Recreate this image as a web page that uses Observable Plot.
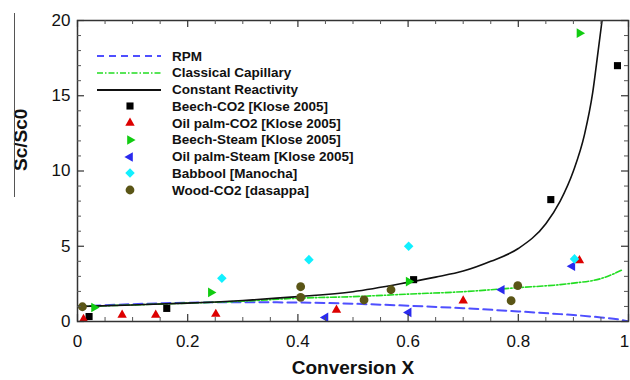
<!DOCTYPE html>
<html><head><meta charset="utf-8">
<script src="https://cdn.jsdelivr.net/npm/d3@7"></script>
<script src="https://cdn.jsdelivr.net/npm/@observablehq/plot@0.6"></script>
<style>
body{margin:0;background:#fff;}
#wrap{position:relative;width:630px;height:380px;font-family:"Liberation Sans",Arial,sans-serif;}
.row{position:absolute;height:16px;display:flex;align-items:center;font-weight:bold;font-size:13.5px;color:#111;white-space:nowrap;}
.row svg{display:block;}
#artifact{position:absolute;left:14px;top:13px;width:1px;height:184px;background:#555;}
</style></head><body><div id="wrap"><div id="artifact"></div></div>
<script>
// ---- model curves ----
const rpmX = [0, 0.1, 0.2, 0.3, 0.4, 0.5, 0.6, 0.7, 0.8, 0.876, 0.9, 0.95, 0.98, 1.0];
const rpmY = [1.0, 1.15, 1.25, 1.28, 1.26, 1.18, 1.05, 0.88, 0.67, 0.49, 0.43, 0.27, 0.15, 0.0];

const capX = [0, 0.1, 0.2, 0.3, 0.4, 0.5, 0.6, 0.7, 0.8, 0.876, 0.9, 0.95, 0.99];
const capY = [1.0, 1.1, 1.22, 1.35, 1.55, 1.65, 1.82, 1.98, 2.25, 2.45, 2.55, 2.85, 3.45];

const crX = [0, 0.1, 0.2, 0.3, 0.4, 0.5, 0.6, 0.65, 0.7, 0.75, 0.8, 0.85, 0.876, 0.9, 0.92, 0.935, 0.945, 0.952];
const crY = [1.0, 1.1, 1.22, 1.4, 1.65, 1.98, 2.6, 2.95, 3.35, 4.0, 4.85, 6.5, 8.0, 10.0, 12.4, 15.2, 18.0, 20.0];

// ---- measured points ----
const beechCO2X = [0.021, 0.162, 0.61, 0.859, 0.98];
const beechCO2Y = [0.33, 0.87, 2.78, 8.1, 17.0];

const oilCO2X = [0.011, 0.081, 0.142, 0.251, 0.47, 0.70, 0.911];
const oilCO2Y = [0.15, 0.43, 0.43, 0.49, 0.76, 1.38, 4.05];

const beechSteamX = [0.030, 0.242, 0.601, 0.911];
const beechSteamY = [0.93, 1.93, 2.65, 19.16];

const oilSteamX = [0.45, 0.601, 0.770, 0.898];
const oilSteamY = [0.27, 0.6, 2.11, 3.67];

const babboolX = [0.262, 0.42, 0.601, 0.902];
const babboolY = [2.87, 4.11, 5.0, 4.16];

const woodX = [0.009, 0.405, 0.405, 0.52, 0.569, 0.787, 0.799];
const woodY = [0.98, 2.31, 1.6, 1.43, 2.11, 1.38, 2.38];

const xMajor = [0, 0.2, 0.4, 0.6, 0.8, 1];
const yMajor = [0, 5, 10, 15, 20];
const xMinor = d3.range(0, 21).map(i => i * 0.05).filter(v => Math.abs(v * 5 - Math.round(v * 5)) > 1e-6);
const yMinor = d3.range(0, 21).filter(v => v % 5 !== 0);

const legendLabels = ["RPM", "Classical Capillary", "Constant Reactivity", "Beech-CO2 [Klose 2005]",
  "Oil palm-CO2 [Klose 2005]", "Beech-Steam [Klose 2005]", "Oil palm-Steam [Klose 2005]",
  "Babbool [Manocha]", "Wood-CO2 [dasappa]"];

const zip = (xs, ys) => xs.map((x, i) => ({x, y: ys[i]}));

const C = {
  rpm: "#4f4fff", cap: "#22dd22", cr: "#111111",
  black: "#000000", red: "#dd0000", green: "#11cc11", blue: "#2a2aee", cyan: "#11f0ff", olive: "#5a5516"
};

const W = 630, H = 380, mL = 77, mR = 2, mT = 20, mB = 59;
const pw = W - mL - mR, ph = H - mT - mB;
const fmt = d => String(d);

const pointSeries = [
  {xs: beechCO2X, ys: beechCO2Y, symbol: "square", r: 4, fill: C.black, rotate: 0},
  {xs: oilCO2X, ys: oilCO2Y, symbol: "triangle", r: 3.5, fill: C.red, rotate: 0},
  {xs: beechSteamX, ys: beechSteamY, symbol: "triangle", r: 3.6, fill: C.green, rotate: 90},
  {xs: oilSteamX, ys: oilSteamY, symbol: "triangle", r: 3.6, fill: C.blue, rotate: -90},
  {xs: babboolX, ys: babboolY, symbol: "diamond2", r: 4.3, fill: C.cyan, rotate: 0},
  {xs: woodX, ys: woodY, symbol: "circle", r: 4.4, fill: C.olive, rotate: 0}
];

const chart = Plot.plot({
  width: W, height: H, marginLeft: mL, marginRight: mR, marginTop: mT, marginBottom: mB,
  x: {domain: [0, 1]}, y: {domain: [0, 20]},
  style: {fontFamily: "Liberation Sans, Arial, sans-serif", background: "white", color: "#111", overflow: "visible"},
  marks: [
    Plot.line(zip(rpmX, rpmY), {x: "x", y: "y", stroke: C.rpm, strokeWidth: 2, strokeDasharray: "9,5", curve: "monotone-x", clip: true}),
    Plot.line(zip(capX, capY), {x: "x", y: "y", stroke: C.cap, strokeWidth: 1.6, strokeDasharray: "6,2,1.5,2", curve: "monotone-x", clip: true}),
    Plot.line(zip(crX, crY), {x: "x", y: "y", stroke: C.cr, strokeWidth: 1.6, curve: "monotone-x", clip: true}),
    ...pointSeries.map(s => Plot.dot(zip(s.xs, s.ys), {x: "x", y: "y", symbol: s.symbol, r: s.r, fill: s.fill, stroke: "none", rotate: s.rotate})),
    Plot.frame({stroke: "#333", strokeWidth: 1.5}),
    Plot.tickY(yMajor, {y: d => d, insetRight: pw - 7, stroke: "#333", strokeWidth: 1.2}),
    Plot.tickY(yMajor, {y: d => d, insetLeft: pw - 7, stroke: "#333", strokeWidth: 1.2}),
    Plot.tickY(yMinor, {y: d => d, insetRight: pw - 4, stroke: "#555", strokeWidth: 1}),
    Plot.tickY(yMinor, {y: d => d, insetLeft: pw - 4, stroke: "#555", strokeWidth: 1}),
    Plot.tickX(xMajor, {x: d => d, insetTop: ph - 7, stroke: "#333", strokeWidth: 1.2}),
    Plot.tickX(xMajor, {x: d => d, insetBottom: ph - 7, stroke: "#333", strokeWidth: 1.2}),
    Plot.tickX(xMinor, {x: d => d, insetTop: ph - 4, stroke: "#555", strokeWidth: 1}),
    Plot.tickX(xMinor, {x: d => d, insetBottom: ph - 4, stroke: "#555", strokeWidth: 1}),
    Plot.axisX(xMajor.slice(0, -1), {tickSize: 0, tickPadding: 13, fontSize: 17, label: null, tickFormat: fmt}),
    Plot.axisX(xMajor.slice(-1), {tickSize: 0, tickPadding: 13, fontSize: 17, label: null, tickFormat: fmt, dx: -4}),
    Plot.axisY(yMajor, {tickSize: 0, tickPadding: 7, fontSize: 17, label: null, tickFormat: fmt}),
    Plot.text(["Conversion X"], {text: d => d, frameAnchor: "bottom", dy: 52, fontSize: 19, fontWeight: "bold"}),
    Plot.text(["Sc/Sc0"], {text: d => d, frameAnchor: "left", dx: -57, rotate: -90, fontSize: 19, fontWeight: "bold"})
  ]
});

const wrap = document.getElementById("wrap");
wrap.prepend(chart);

// ---- legend overlay ----
const rowTop0 = 56, rowStep = 16.75;
const lineSamples = [
  {stroke: C.rpm, dash: "7,5", w: 2},
  {stroke: C.cap, dash: "6,2,1.5,2", w: 1.6},
  {stroke: C.cr, dash: null, w: 1.8}
];
legendLabels.forEach((label, i) => {
  const row = document.createElement("div");
  row.className = "row";
  row.style.left = "96px";
  row.style.top = (rowTop0 + i * rowStep - 8) + "px";
  const svg = d3.create("svg").attr("width", 66).attr("height", 16);
  if (i < 3) {
    const s = lineSamples[i];
    svg.append("line").attr("x1", 1).attr("x2", 65).attr("y1", 8).attr("y2", 8)
      .attr("stroke", s.stroke).attr("stroke-width", s.w).attr("stroke-dasharray", s.dash);
  } else {
    const p = pointSeries[i - 3];
    const sym = {square: d3.symbolSquare, triangle: d3.symbolTriangle, diamond2: d3.symbolDiamond2, circle: d3.symbolCircle}[p.symbol];
    svg.append("path").attr("d", d3.symbol(sym, Math.PI * p.r * p.r)())
      .attr("transform", `translate(34,8) rotate(${p.rotate})`).attr("fill", p.fill);
  }
  row.appendChild(svg.node());
  const t = document.createElement("span");
  t.textContent = label;
  t.style.marginLeft = "10px";
  row.appendChild(t);
  wrap.appendChild(row);
});
</script>
</body></html>
